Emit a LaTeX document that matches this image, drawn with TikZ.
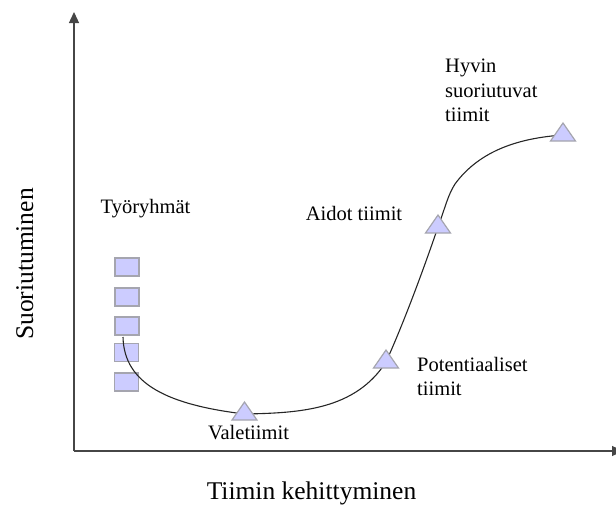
\documentclass[tikz,border=0pt]{standalone}
\usepackage{fontspec}
\setmainfont{Liberation Serif}
\usepackage{tikz}
\usetikzlibrary{shapes.geometric,arrows.meta,positioning,backgrounds}
\definecolor{teamfill}{RGB}{204,204,255}
\definecolor{teamedge}{RGB}{165,165,175}
\definecolor{axisgray}{RGB}{70,70,70}

\begin{document}
\begin{tikzpicture}[
    x=1pt, y=-1pt,
    sq/.style={rectangle, draw=teamedge, fill=teamfill, line width=1.2pt, minimum width=24pt, minimum height=18pt, inner sep=0pt},
    tri/.style={regular polygon, regular polygon sides=3, draw=teamedge, fill=teamfill, line width=1.2pt, minimum size=24pt, inner sep=0pt, xscale=1.2},
    lbl/.style={font=\rmfamily\fontsize{20.5}{24.5}\selectfont, align=left, inner sep=0pt},
    axislbl/.style={font=\rmfamily\fontsize{25.5}{30}\selectfont, inner sep=0pt},
    axis/.style={-{Triangle[width=10pt,length=11pt]}, line width=1.3pt, draw=axisgray},
    curve/.style={line width=1.1pt, draw=black!85}
]
\useasboundingbox (0,0) rectangle (616,506);

% axes
\coordinate (o) at (74,451);
\coordinate (ytip) at (74,12);
\coordinate (xtip) at (623,451);
\draw[axis] (o) -- (ytip);
\draw[axis] (o) -- (xtip);
\node[axislbl, rotate=90, anchor=base] (ylbl) at (33,264) {Suoriutuminen};
\node[axislbl, anchor=base] (xlbl) at (311.5,499) {Tiimin kehittyminen};

% team stages
\node[tri] (valeT) at (244.5,414) {};
\node[tri] (potT) at (386,362) {};
\node[tri] (aidotT) at (438,227) {};
\node[tri] (hyvinT) at (563,135) {};

\node[lbl, anchor=base] (tyoL) at (145.5,213) {Työryhmät};
\node[lbl, anchor=base] (valeL) at (248.5,439) {Valetiimit};
\node[lbl, anchor=base] (aidotL) at (354,220.7) {Aidot tiimit};
\node[lbl, anchor=base west] (potL) at (417,395.5) {Potentiaaliset\\tiimit};
\node[lbl, anchor=base west] (hyvinL) at (445,121.7) {Hyvin\\suoriutuvat\\tiimit};

\begin{pgfonlayer}{background}
\node[sq] (sq1) at (127,267) {};
\node[sq] (sq2) at (127,297) {};
\node[sq] (sq3) at (127,326) {};
\node[sq] (sq4) at (126.5,352.5) {};
\node[sq] (sq5) at (126.5,382) {};
\coordinate (start) at (123,337);
\draw[curve] (start) .. controls (124,385) and (170,405) .. (valeT.center)
    .. controls (300,413) and (355,410) .. (potT.center)
    .. controls (405,320) and (425,265) .. (aidotT.center)
    .. controls (446,205) and (448,195) .. (455,184)
    .. controls (480,150) and (520,138) .. (hyvinT.center);
\end{pgfonlayer}
\end{tikzpicture}
\end{document}
